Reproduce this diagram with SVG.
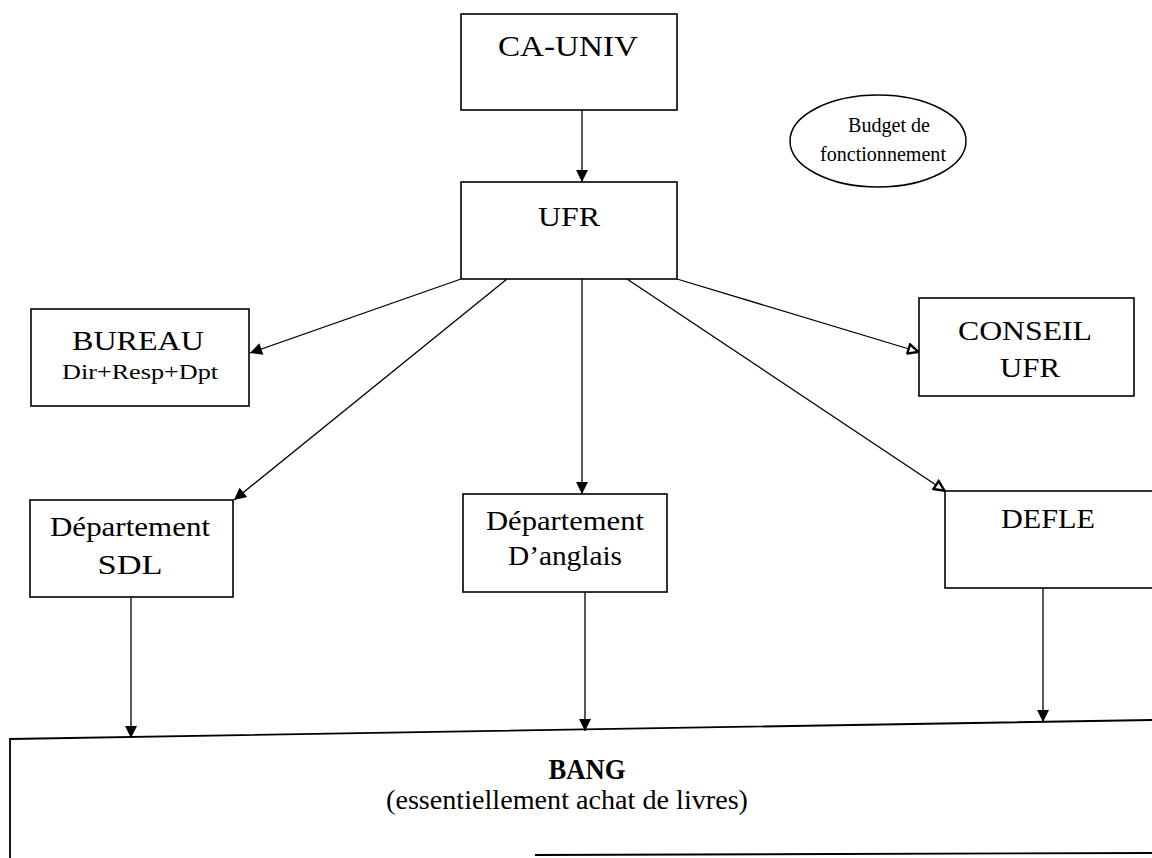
<svg xmlns="http://www.w3.org/2000/svg" width="1152" height="858" viewBox="0 0 1152 858">
<style>
.box{fill:#fff;stroke:#000;stroke-width:1.6}
.t{font-family:"Liberation Serif","Times New Roman",serif;fill:#000;text-anchor:middle}
.c{stroke:#000;stroke-width:1.3;fill:none}
</style>
<defs>
<marker id="af" viewBox="0 0 10 10" refX="10" refY="5" markerWidth="14" markerHeight="12" markerUnits="userSpaceOnUse" orient="auto"><path d="M0,0 L10,5 L0,10 z" fill="#000"/></marker>
<marker id="ah" viewBox="0 0 10 10" refX="10" refY="5" markerWidth="14" markerHeight="12" markerUnits="userSpaceOnUse" orient="auto"><path d="M1,1 L9.5,5 L1,9 z" fill="#fff" stroke="#000" stroke-width="2"/></marker>
</defs>
<rect width="1152" height="858" fill="#fff"/>
<g id="connectors">
<line class="c" x1="582" y1="110" x2="582" y2="182" marker-end="url(#af)"/>
<line class="c" x1="461" y1="279" x2="250" y2="353" marker-end="url(#af)"/>
<line class="c" x1="507" y1="279" x2="234" y2="500" marker-end="url(#af)"/>
<line class="c" x1="582" y1="279" x2="582" y2="494" marker-end="url(#af)"/>
<line class="c" x1="627" y1="279" x2="945" y2="491" marker-end="url(#ah)"/>
<line class="c" x1="677" y1="279" x2="919" y2="352" marker-end="url(#ah)"/>
<line class="c" x1="131" y1="597" x2="131" y2="738" marker-end="url(#af)"/>
<line class="c" x1="585" y1="592" x2="585" y2="731" marker-end="url(#af)"/>
<line class="c" x1="1043" y1="588" x2="1043" y2="722" marker-end="url(#af)"/>
</g>
<g id="ca-univ">
<rect class="box" x="461" y="14" width="216" height="96"/>
<text class="t" x="568" y="56" font-size="30" textLength="140" lengthAdjust="spacingAndGlyphs">CA-UNIV</text>
</g>
<g id="ufr">
<rect class="box" x="461" y="182" width="216" height="97"/>
<text class="t" x="569" y="226" font-size="28" textLength="62" lengthAdjust="spacingAndGlyphs">UFR</text>
</g>
<g id="budget">
<ellipse cx="878" cy="141" rx="88" ry="46" fill="#fff" stroke="#000" stroke-width="1.5"/>
<text class="t" x="889" y="132" font-size="20" textLength="82" lengthAdjust="spacingAndGlyphs">Budget de</text>
<text class="t" x="883" y="161" font-size="20" textLength="126" lengthAdjust="spacingAndGlyphs">fonctionnement</text>
</g>
<g id="bureau">
<rect class="box" x="31" y="309" width="218" height="97"/>
<text class="t" x="138" y="350" font-size="27" textLength="132" lengthAdjust="spacingAndGlyphs">BUREAU</text>
<text class="t" x="140" y="379" font-size="20" textLength="156" lengthAdjust="spacingAndGlyphs">Dir+Resp+Dpt</text>
</g>
<g id="conseil">
<rect class="box" x="919" y="298" width="215" height="98"/>
<text class="t" x="1025" y="340" font-size="27" textLength="134" lengthAdjust="spacingAndGlyphs">CONSEIL</text>
<text class="t" x="1030" y="377" font-size="27" textLength="60" lengthAdjust="spacingAndGlyphs">UFR</text>
</g>
<g id="dept-sdl">
<rect class="box" x="30" y="500" width="203" height="97"/>
<text class="t" x="130" y="536" font-size="27" textLength="160" lengthAdjust="spacingAndGlyphs">Département</text>
<text class="t" x="130" y="574" font-size="27" textLength="65" lengthAdjust="spacingAndGlyphs">SDL</text>
</g>
<g id="dept-anglais">
<rect class="box" x="463" y="494" width="204" height="98"/>
<text class="t" x="565" y="530" font-size="27" textLength="158" lengthAdjust="spacingAndGlyphs">Département</text>
<text class="t" x="565" y="565" font-size="27" textLength="114" lengthAdjust="spacingAndGlyphs">D’anglais</text>
</g>
<g id="defle">
<rect class="box" x="945" y="491" width="215" height="97"/>
<text class="t" x="1048" y="528" font-size="27" textLength="94" lengthAdjust="spacingAndGlyphs">DEFLE</text>
</g>
<g id="bang">
<path d="M10,858 L10,739 L1152,720" fill="none" stroke="#000" stroke-width="1.8"/>
<line x1="535" y1="855" x2="1152" y2="853" stroke="#000" stroke-width="1.8"/>
<text class="t" x="587" y="779" font-size="30" font-weight="bold" textLength="77" lengthAdjust="spacingAndGlyphs">BANG</text>
<text class="t" x="567" y="809" font-size="28" textLength="362" lengthAdjust="spacingAndGlyphs">(essentiellement achat de livres)</text>
</g>
</svg>
